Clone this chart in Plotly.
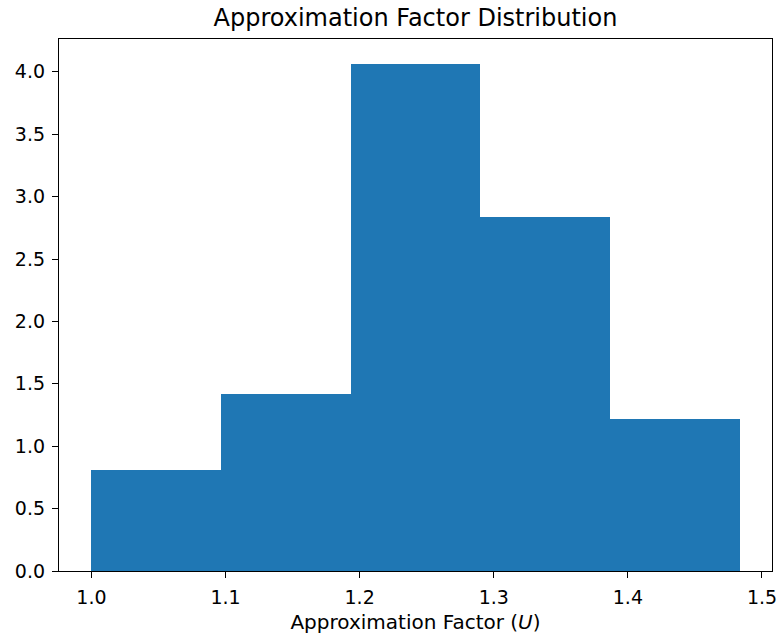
import plotly.graph_objects as go

# Histogram bins (edges) and density heights
bin_edges = [1.0, 1.0967, 1.1933, 1.29, 1.3867, 1.4833]
densities = [0.81, 1.42, 4.06, 2.84, 1.22]

x_ticks = [1.0, 1.1, 1.2, 1.3, 1.4, 1.5]
y_ticks = [0.0, 0.5, 1.0, 1.5, 2.0, 2.5, 3.0, 3.5, 4.0]

centers = [(a + b) / 2 for a, b in zip(bin_edges[:-1], bin_edges[1:])]
widths = [b - a for a, b in zip(bin_edges[:-1], bin_edges[1:])]

span = bin_edges[-1] - bin_edges[0]
x_range = [bin_edges[0] - 0.05 * span, bin_edges[-1] + 0.05 * span]
y_range = [0, max(densities) * 1.05]

font = "DejaVu Sans"

fig = go.Figure(
    go.Bar(
        x=centers,
        y=densities,
        width=widths,
        marker=dict(color="#1f77b4", line=dict(width=0)),
        hoverinfo="x+y",
    )
)

axis_common = dict(
    showline=True,
    linecolor="black",
    linewidth=1.3,
    mirror=True,
    ticks="outside",
    ticklen=6,
    tickwidth=1.3,
    tickcolor="black",
    showgrid=False,
    zeroline=False,
    automargin=False,
    ticklabelstandoff=3,
    tickfont=dict(family=font, size=19, color="black"),
)

fig.update_layout(
    width=782,
    height=638,
    margin=dict(l=59, r=10, t=39, b=67),
    paper_bgcolor="white",
    plot_bgcolor="white",
    showlegend=False,
    bargap=0,
    title=dict(
        text="Approximation Factor Distribution",
        x=(59 + 772) / 2 / 782,
        xanchor="center",
        y=1 - 18 / 638,
        yanchor="middle",
        font=dict(family=font, size=24, color="black"),
    ),
    xaxis=dict(
        range=x_range,
        tickvals=x_ticks,
        ticktext=[f"{v:.1f}" for v in x_ticks],
        title=dict(
            text="Approximation Factor (<i>U</i>)",
            font=dict(family=font, size=20, color="black"),
            standoff=8,
        ),
        **axis_common,
    ),
    yaxis=dict(
        range=y_range,
        tickvals=y_ticks,
        ticktext=[f"{v:.1f}" for v in y_ticks],
        **axis_common,
    ),
)

fig.write_html("out.html")
